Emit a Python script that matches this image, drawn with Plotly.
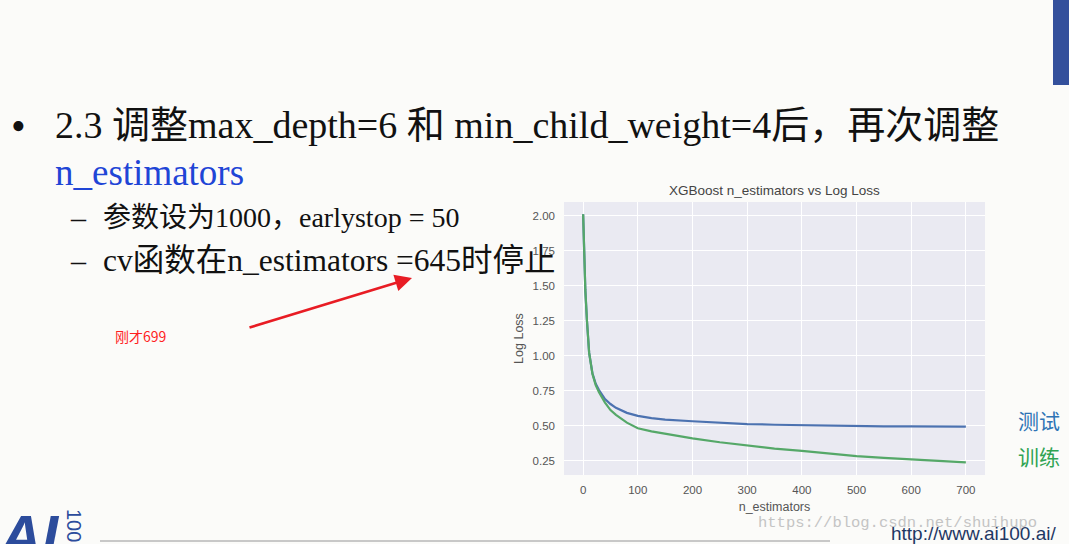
import plotly.graph_objects as go

W, H = 1069, 544

# ---- data ----
n_estimators = [0, 2, 4, 7, 11, 17, 23, 29, 40, 50, 60, 80, 100, 125, 150, 200,
                250, 300, 350, 400, 450, 500, 550, 600, 650, 700]
test_logloss = [2.01, 1.70, 1.47, 1.25, 1.02, 0.875, 0.80, 0.755, 0.69, 0.655, 0.628,
                0.592, 0.570, 0.554, 0.544, 0.532, 0.520, 0.512, 0.507, 0.503, 0.500,
                0.498, 0.496, 0.495, 0.494, 0.493]
train_logloss = [2.01, 1.70, 1.47, 1.25, 1.02, 0.870, 0.79, 0.740, 0.665, 0.612, 0.578,
                 0.522, 0.482, 0.460, 0.443, 0.410, 0.382, 0.357, 0.337, 0.320, 0.300,
                 0.283, 0.271, 0.260, 0.249, 0.238]
x_ticks = [0, 100, 200, 300, 400, 500, 600, 700]
y_ticks = [0.25, 0.50, 0.75, 1.00, 1.25, 1.50, 1.75, 2.00]
y_tick_labels = ["0.25", "0.50", "0.75", "1.00", "1.25", "1.50", "1.75", "2.00"]


def px(x):
    return x / W


def py(y):
    return 1 - y / H


SERIF = "Liberation Serif, Times New Roman, Noto Sans CJK SC"
SANS = "Liberation Sans, Arial, sans-serif"
CJK = "Noto Sans CJK SC"

fig = go.Figure()
fig.add_trace(go.Scatter(x=n_estimators, y=test_logloss, mode="lines",
                         line=dict(color="#4c72b0", width=2.2), name="Test"))
fig.add_trace(go.Scatter(x=n_estimators, y=train_logloss, mode="lines",
                         line=dict(color="#55a868", width=2.2), name="Train"))

ann = []


def text(x, y, s, size, color="#111111", family=SERIF, xanchor="left", **kw):
    ann.append(dict(x=px(x), y=py(y), xref="paper", yref="paper", text=s,
                    showarrow=False, xanchor=xanchor, yanchor="middle",
                    font=dict(size=size, color=color, family=family), **kw))


# slide text
text(18, 126, "•", 42, xanchor="center")
text(53, 125, "2.3 调整max_depth=6 和 min_child_weight=4后，再次调整", 38)
text(53, 172, "n_estimators", 37, color="#1f45d6")
text(78, 217, "–", 30, xanchor="center")
text(101, 217, "参数设为1000，earlystop = 50", 28)
text(78, 260, "–", 30, xanchor="center")
text(101, 260, "cv函数在n_estimators =645时停止", 31.5)
text(113, 336, "刚才699", 14, color="#ff1f1f", family=CJK)
text(1016, 420, "测试", 21, color="#2e74b5", family=CJK)
text(1016, 456, "训练", 21, color="#2fa352", family=CJK)

# chart title
text(774, 190, "XGBoost n_estimators vs Log Loss", 13.5, color="#444444",
     family=SANS, xanchor="center")

# footer
text(-4, 535, "<b><i>AI</i></b>", 58, color="#2c4c9c", family=SANS)
text(74, 525, "100", 20, color="#2c4c9c", family=SANS, xanchor="center", textangle=90)
text(756, 523, "https://blog.csdn.net/shuihupo", 15.5, color="#c4c4c4",
     family="Liberation Mono, DejaVu Sans Mono, monospace")
text(889, 533, "http://www.ai100.ai/", 19, color="#1f3864", family=SANS)

# red arrow
ann.append(dict(x=px(412), y=py(278), xref="paper", yref="paper", text="",
                showarrow=True, ax=248 - 412, ay=328 - 278, axref="pixel", ayref="pixel",
                arrowhead=2, arrowsize=1.3, arrowwidth=2.6, arrowcolor="#e81c24",
                standoff=0, startstandoff=0))

shapes = [
    dict(type="rect", xref="paper", yref="paper", x0=px(1053), x1=px(1070),
         y0=py(85), y1=py(-2), fillcolor="#34509c", line=dict(width=0)),
    dict(type="line", xref="paper", yref="paper", x0=px(100), x1=px(830),
         y0=py(541), y1=py(541), line=dict(color="#c8c8c8", width=2)),
]

fig.update_layout(
    width=W, height=H, autosize=False,
    margin=dict(l=0, r=0, t=0, b=0),
    paper_bgcolor="#fbfbf9", plot_bgcolor="#eaeaf2",
    showlegend=False,
    annotations=ann, shapes=shapes,
    xaxis=dict(domain=[px(564), px(985)], range=[-35, 735], tickvals=x_ticks,
               showgrid=True, gridcolor="#ffffff", gridwidth=1.3, zeroline=False,
               showline=False, ticks="", ticklen=0, ticklabelstandoff=6,
               tickfont=dict(size=11.5, color="#555555", family=SANS),
               title=dict(text="n_estimators", font=dict(size=12.5, color="#555555", family=SANS),
                          standoff=7)),
    yaxis=dict(domain=[py(475), py(202)], range=[0.148, 2.098], tickvals=y_ticks,
               ticktext=y_tick_labels,
               showgrid=True, gridcolor="#ffffff", gridwidth=1.3, zeroline=False,
               showline=False, ticks="", ticklen=0, ticklabelstandoff=8,
               tickfont=dict(size=11.5, color="#555555", family=SANS),
               title=dict(text="Log Loss", font=dict(size=12.5, color="#555555", family=SANS),
                          standoff=6)),
)

fig.write_html(
    "out.html",
    config={"displayModeBar": False},
    post_script="document.body.style.margin='0';document.body.style.padding='0';"
                "document.body.style.overflow='hidden';"
                "document.body.style.background='#fbfbf9';",
)
